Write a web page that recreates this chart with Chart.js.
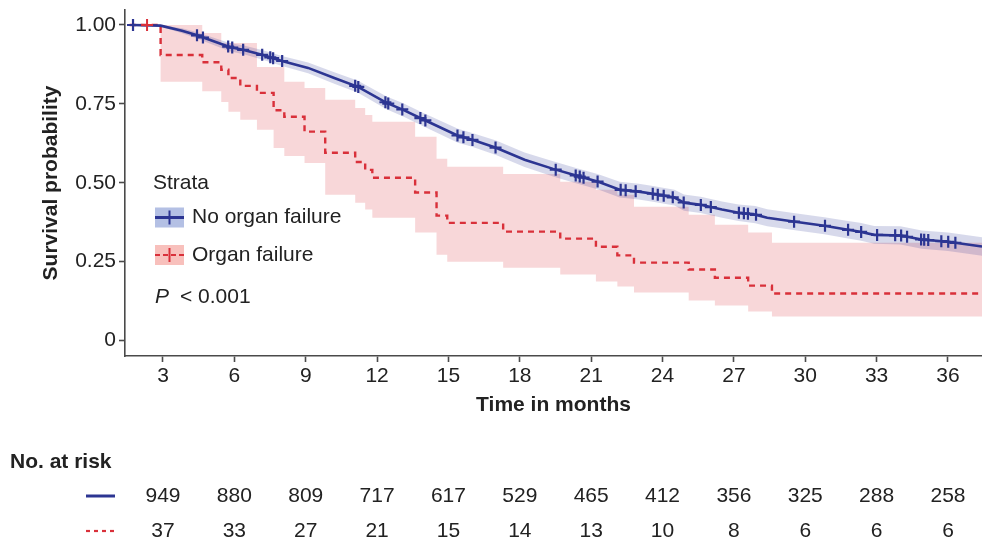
<!DOCTYPE html>
<html>
<head>
<meta charset="utf-8">
<script src="https://cdn.jsdelivr.net/npm/chart.js@4.4.1/dist/chart.umd.min.js"></script>
<style>
  html, body { margin: 0; padding: 0; background: #fff; }
  #wrap { width: 982px; height: 542px; }
</style>
</head>
<body>
<div id="wrap"><canvas id="km" width="982" height="542"></canvas></div>
<script>
// ---- data ----
// No organ failure (large group, nearly smooth curve)
const blueTime = [1.7, 2.9, 3.8, 4.4, 5.8, 6.4, 7.2, 8.0, 9.1, 10.2, 11.2, 12.4, 13.1, 13.9, 15.4, 16.0, 17.0, 18.2, 19.4, 20.4,
  21.3, 22.2, 23.0, 23.6, 24.5, 24.9, 25.6, 26.5, 27.2, 27.9, 28.4, 29.5, 30.8, 31.8, 32.3, 32.9, 34.0, 34.9, 36.0, 37.43];
const blueSurv = [1.000, 0.998, 0.982, 0.968, 0.930, 0.921, 0.905, 0.886, 0.864, 0.832, 0.804, 0.753, 0.731, 0.702, 0.649, 0.636, 0.611, 0.573, 0.544, 0.522,
  0.503, 0.478, 0.472, 0.465, 0.453, 0.437, 0.430, 0.415, 0.405, 0.399, 0.389, 0.377, 0.364, 0.351, 0.345, 0.335, 0.333, 0.320, 0.313, 0.298];
const blueUpper = [1.000, 1.000, 0.990, 0.978, 0.943, 0.935, 0.920, 0.902, 0.881, 0.850, 0.823, 0.773, 0.752, 0.723, 0.671, 0.658, 0.634, 0.596, 0.568, 0.546,
  0.527, 0.503, 0.497, 0.490, 0.478, 0.463, 0.456, 0.441, 0.431, 0.426, 0.416, 0.404, 0.391, 0.379, 0.373, 0.363, 0.362, 0.349, 0.342, 0.327];
const blueLower = [0.998, 0.995, 0.974, 0.958, 0.917, 0.907, 0.890, 0.870, 0.847, 0.814, 0.785, 0.733, 0.710, 0.681, 0.627, 0.614, 0.588, 0.550, 0.520, 0.498,
  0.479, 0.453, 0.447, 0.440, 0.428, 0.411, 0.404, 0.389, 0.379, 0.372, 0.362, 0.350, 0.337, 0.323, 0.317, 0.307, 0.304, 0.291, 0.284, 0.269];
const blueCensor = [1.74, 4.43, 4.68, 5.74, 5.91, 6.37, 7.17, 7.51, 7.63, 8.01, 11.08, 11.21, 12.35, 12.47, 13.06, 13.82, 14.03, 15.38, 15.63, 16.01,
  16.98, 19.51, 20.35, 20.52, 20.68, 21.27, 22.24, 22.45, 22.87, 23.59, 23.80, 24.05, 24.43, 24.89, 25.61, 26.03, 27.21, 27.42, 27.59, 27.93,
  29.53, 30.83, 31.80, 32.35, 33.02, 33.78, 34.03, 34.28, 34.87, 35.00, 35.17, 35.72, 36.01, 36.31];

// Organ failure (small group, step function)
const redTime = [1.6, 2.9, 4.65, 5.45, 5.75, 6.25, 6.95, 7.65, 8.1, 8.95, 9.82, 11.08, 11.5, 11.8, 13.6, 14.5, 14.95, 17.3, 19.7, 21.2,
  22.1, 22.8, 25.1, 26.2, 27.6, 28.6, 37.43];
const redSurv = [1.000, 0.905, 0.882, 0.858, 0.832, 0.807, 0.785, 0.730, 0.709, 0.662, 0.595, 0.566, 0.541, 0.516, 0.469, 0.396, 0.373, 0.345, 0.323, 0.297,
  0.270, 0.247, 0.225, 0.199, 0.174, 0.149, 0.149];
const redUpper = [1.000, 1.000, 0.975, 0.943, 0.943, 0.943, 0.867, 0.867, 0.820, 0.800, 0.763, 0.737, 0.715, 0.693, 0.646, 0.576, 0.551, 0.528, 0.503, 0.478,
  0.462, 0.424, 0.399, 0.367, 0.342, 0.310, 0.310];
const redLower = [1.000, 0.820, 0.790, 0.756, 0.725, 0.700, 0.668, 0.610, 0.585, 0.563, 0.462, 0.437, 0.415, 0.389, 0.342, 0.272, 0.250, 0.231, 0.209, 0.187,
  0.171, 0.152, 0.127, 0.111, 0.092, 0.076, 0.076];
const redCensor = [2.33];

// axis ticks
const xTicks = [3, 6, 9, 12, 15, 18, 21, 24, 27, 30, 33, 36];
const yTicks = [0, 0.25, 0.5, 0.75, 1];
const yTickLabels = ['0', '0.25', '0.50', '0.75', '1.00'];

// number at risk
const riskTimes = [3, 6, 9, 12, 15, 18, 21, 24, 27, 30, 33, 36];
const riskNoFailure = [949, 880, 809, 717, 617, 529, 465, 412, 356, 325, 288, 258];
const riskFailure = [37, 33, 27, 21, 15, 14, 13, 10, 8, 6, 6, 6];

const strata = ['No organ failure', 'Organ failure'];

// ---- styles ----
const FONT = '"Liberation Sans", Arial, Helvetica, sans-serif';
const NAVY = '#2c3592';
const RED = '#d9303a';
const AXIS = '#4a4a4a';
const TEXT = '#222222';

// survival value of a curve at time t (censor marks sit on the curve)
function onCurve(times, surv, t, stepped) {
  for (let i = times.length - 1; i >= 0; i--) {
    if (times[i] <= t) {
      if (stepped || i === times.length - 1) return surv[i];
      const f = (t - times[i]) / (times[i + 1] - times[i]);
      return surv[i] + f * (surv[i + 1] - surv[i]);
    }
  }
  return surv[0];
}

const pts = (xs, ys) => xs.map((x, i) => ({ x: x, y: ys[i] }));

const extras = {
  id: 'extras',
  afterDraw(chart) {
    const ctx = chart.ctx;
    const xs = chart.scales.x;
    ctx.save();
    ctx.textBaseline = 'middle';
    ctx.textAlign = 'left';
    ctx.fillStyle = TEXT;
    ctx.font = '21px ' + FONT;
    ctx.fillText('Strata', 153, 183);

    const boxFill = ['#b4c0e4', '#f8c0bc'];
    const lineCol = [NAVY, RED];
    strata.forEach((lab, i) => {
      const y = 217.5 + i * 37.5;
      ctx.fillStyle = boxFill[i];
      ctx.fillRect(155, y - 10, 29, 20);
      ctx.strokeStyle = lineCol[i];
      ctx.lineWidth = i === 0 ? 3 : 2.2;
      ctx.setLineDash(i === 0 ? [] : [5, 3]);
      ctx.beginPath();
      ctx.moveTo(155, y); ctx.lineTo(184, y);
      ctx.stroke();
      ctx.setLineDash([]);
      ctx.lineWidth = 2;
      ctx.beginPath();
      ctx.moveTo(169.5, y - 7); ctx.lineTo(169.5, y + 7);
      ctx.stroke();
      ctx.fillStyle = TEXT;
      ctx.fillText(lab, 192, y);
    });

    ctx.font = 'italic 21px ' + FONT;
    ctx.fillText('P', 155, 297);
    ctx.font = '21px ' + FONT;
    ctx.fillText('< 0.001', 180, 297);

    // number at risk table
    ctx.font = 'bold 21px ' + FONT;
    ctx.fillText('No. at risk', 10, 462);
    ctx.font = '21px ' + FONT;
    ctx.textAlign = 'center';
    const rows = [riskNoFailure, riskFailure];
    const rowY = [496, 531];
    rows.forEach((row, r) => {
      ctx.strokeStyle = lineCol[r];
      ctx.lineWidth = r === 0 ? 3 : 2.2;
      ctx.setLineDash(r === 0 ? [] : [4, 4]);
      ctx.beginPath();
      ctx.moveTo(86, rowY[r]); ctx.lineTo(115, rowY[r]);
      ctx.stroke();
      ctx.setLineDash([]);
      ctx.fillStyle = TEXT;
      row.forEach((n, i) => {
        ctx.fillText(String(n), xs.getPixelForValue(riskTimes[i]), rowY[r]);
      });
    });
    ctx.restore();
  }
};

new Chart(document.getElementById('km'), {
  type: 'line',
  data: {
    datasets: [
      { data: pts(blueTime, blueSurv), borderColor: NAVY, borderWidth: 2.6, pointRadius: 0, fill: false, order: 1 },
      { data: pts(redTime, redSurv), borderColor: RED, borderWidth: 2.4, borderDash: [6, 5], stepped: 'before', pointRadius: 0, fill: false, order: 2 },
      { data: blueCensor.map(t => ({ x: t, y: onCurve(blueTime, blueSurv, t, false) })), showLine: false,
        pointStyle: 'cross', pointRadius: 6, pointBorderWidth: 2.2, borderColor: NAVY, pointBorderColor: NAVY, order: 0 },
      { data: redCensor.map(t => ({ x: t, y: onCurve(redTime, redSurv, t, true) })), showLine: false,
        pointStyle: 'cross', pointRadius: 6, pointBorderWidth: 2, borderColor: RED, pointBorderColor: RED, order: 0 },
      { data: pts(blueTime, blueUpper), borderWidth: 0, borderColor: 'rgba(0,0,0,0)', pointRadius: 0,
        backgroundColor: 'rgba(45,52,150,0.19)', fill: '+1', order: 5 },
      { data: pts(blueTime, blueLower), borderWidth: 0, borderColor: 'rgba(0,0,0,0)', pointRadius: 0, fill: false, order: 5 },
      { data: pts(redTime, redUpper), borderWidth: 0, borderColor: 'rgba(0,0,0,0)', pointRadius: 0, stepped: 'before',
        backgroundColor: 'rgba(228,95,105,0.25)', fill: '+1', order: 6 },
      { data: pts(redTime, redLower), borderWidth: 0, borderColor: 'rgba(0,0,0,0)', pointRadius: 0, stepped: 'before', fill: false, order: 6 }
    ]
  },
  options: {
    responsive: false,
    animation: false,
    devicePixelRatio: 1,
    layout: { autoPadding: false, padding: { left: 0, right: 0, top: 10, bottom: 124 } },
    plugins: { legend: { display: false }, tooltip: { enabled: false } },
    scales: {
      x: {
        type: 'linear', min: 1.403, max: 37.43,
        afterBuildTicks: s => { s.ticks = xTicks.map(v => ({ value: v })); },
        afterFit: s => { s.height = 62; s.paddingLeft = 0; s.paddingRight = 0; },
        border: { display: true, color: AXIS, width: 1.6 },
        grid: { drawOnChartArea: false, drawTicks: true, tickLength: 6, tickColor: AXIS, tickWidth: 1.6 },
        ticks: { color: TEXT, font: { family: FONT, size: 21 }, padding: 2, maxRotation: 0 },
        title: { display: true, text: 'Time in months', color: TEXT, font: { family: FONT, size: 21, weight: 'bold' }, padding: { top: 0, bottom: 0 } }
      },
      y: {
        type: 'linear', min: -0.049, max: 1.0475,
        afterBuildTicks: s => { s.ticks = yTicks.map(v => ({ value: v })); },
        afterFit: s => { s.width = 125; s.paddingTop = 0; s.paddingBottom = 0; },
        border: { display: true, color: AXIS, width: 1.6 },
        grid: { drawOnChartArea: false, drawTicks: true, tickLength: 6, tickColor: AXIS, tickWidth: 1.6 },
        ticks: { color: TEXT, font: { family: FONT, size: 21 }, padding: 3,
          callback: v => yTickLabels[yTicks.indexOf(v)] },
        title: { display: true, text: 'Survival probability', color: TEXT, font: { family: FONT, size: 21, weight: 'bold' }, padding: { top: 39, bottom: 0 } }
      }
    }
  },
  plugins: [extras]
});
</script>
</body>
</html>
